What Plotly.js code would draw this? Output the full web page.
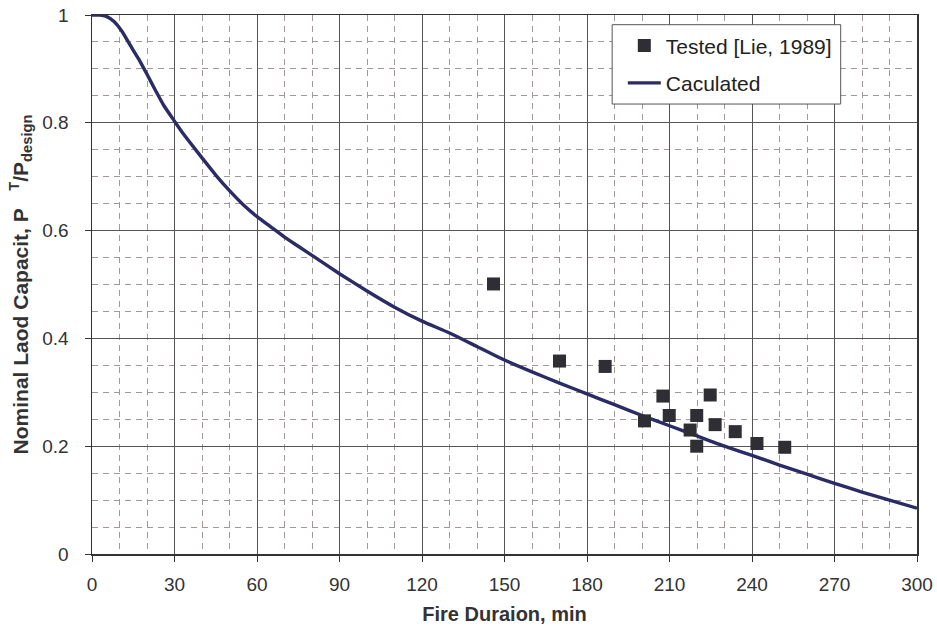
<!DOCTYPE html>
<html>
<head>
<meta charset="utf-8">
<script src="https://cdn.plot.ly/plotly-3.0.1.min.js"></script>
<style>html,body{margin:0;padding:0;background:#fff;}#chart{width:937px;height:626px;}</style>
</head>
<body>
<div id="chart"></div>
<script>
// Calculated curve: fire duration (min) vs nominal load capacity ratio
const calcTime = [0, 3, 5, 8, 11, 14, 17, 20, 23, 26, 30, 33, 36, 40, 45, 50, 55, 60, 65, 70, 75, 80, 90, 100, 110, 120, 130, 140, 150, 160, 170, 180, 190, 200, 210, 220, 230, 240, 250, 260, 270, 280, 290, 300];
const calcLoad = [1.0, 1.0, 0.998, 0.988, 0.969, 0.943, 0.918, 0.890, 0.861, 0.833, 0.803, 0.781, 0.761, 0.735, 0.703, 0.674, 0.648, 0.626, 0.607, 0.588, 0.571, 0.554, 0.520, 0.488, 0.458, 0.432, 0.410, 0.385, 0.360, 0.338, 0.317, 0.297, 0.277, 0.257, 0.238, 0.219, 0.200, 0.183, 0.165, 0.148, 0.131, 0.115, 0.100, 0.085];

// Tested points [Lie, 1989]
const testTime = [146, 170, 186.6, 207.6, 224.8, 200.9, 209.9, 219.9, 217.5, 226.6, 233.9, 219.9, 241.8, 251.9];
const testLoad = [0.501, 0.358, 0.348, 0.293, 0.295, 0.247, 0.257, 0.257, 0.230, 0.240, 0.227, 0.200, 0.205, 0.198];

const seriesNames = ['Tested [Lie, 1989]', 'Caculated'];
const xTitle = '\u00A0\u00A0Fire Duraion, min';
const yTitle = 'Nominal Laod Capacit, P\u00A0\u00A0\u00A0<sup>T</sup>/P<sub>design</sub>';

const fontFam = 'Liberation Sans, Arial, sans-serif';

const traces = [
  {
    x: calcTime, y: calcLoad, type: 'scatter', mode: 'lines',
    name: seriesNames[1], legendrank: 2, legendgroup: 'b',
    line: {color: '#2b2b66', width: 3.4, shape: 'spline', smoothing: 0.5}
  },
  {
    x: testTime, y: testLoad, type: 'scatter', mode: 'markers',
    name: seriesNames[0], legendrank: 1, legendgroup: 'a',
    marker: {symbol: 'square', size: 13, color: '#2e2e34'}
  }
];

const gridMinor = {dash: '6px,5px', color: '#a39797'};

const layout = {
  width: 937, height: 626,
  margin: {l: 92, r: 20, t: 15, b: 72, pad: 0},
  paper_bgcolor: '#ffffff', plot_bgcolor: '#ffffff',
  showlegend: true,
  legend: {
    x: 0.6434, y: 0.9807, xanchor: 'left', yanchor: 'top',
    bgcolor: 'rgba(0,0,0,0)', borderwidth: 0,
    traceorder: 'grouped', tracegroupgap: 7, itemwidth: 33,
    font: {family: fontFam, size: 21, color: '#222'}
  },
  shapes: [{
    type: 'rect', xref: 'paper', yref: 'paper', layer: 'above',
    x0: 0.6305, x1: 0.9075, y0: 0.8348, y1: 0.982,
    fillcolor: '#ffffff', line: {color: '#555', width: 1}
  }],
  xaxis: {
    range: [0, 300], tick0: 0, dtick: 30, autorange: false,
    showgrid: true, gridcolor: '#555', gridwidth: 1,
    zeroline: false, showline: true, mirror: true, linecolor: '#333', linewidth: 1.5,
    ticks: 'outside', ticklen: 6, tickcolor: '#333', tickwidth: 1,
    ticklabelstandoff: 7,
    tickfont: {family: fontFam, size: 19, color: '#333'},
    minor: {dtick: 10, showgrid: true, gridcolor: gridMinor.color, griddash: gridMinor.dash, gridwidth: 1, ticks: ''},
    title: {text: xTitle, standoff: 12, font: {family: fontFam, size: 20, weight: 'bold', color: '#333'}},
    automargin: false
  },
  yaxis: {
    range: [0, 1], tick0: 0, dtick: 0.2, autorange: false,
    showgrid: true, gridcolor: '#555', gridwidth: 1,
    zeroline: false, showline: true, mirror: true, linecolor: '#333', linewidth: 1.5,
    ticks: 'outside', ticklen: 6, tickcolor: '#333', tickwidth: 1,
    ticklabelstandoff: 12,
    tickfont: {family: fontFam, size: 19, color: '#333'},
    minor: {dtick: 0.05, showgrid: true, gridcolor: gridMinor.color, griddash: gridMinor.dash, gridwidth: 1, ticks: ''},
    title: {text: yTitle, standoff: 8, font: {family: fontFam, size: 21, weight: 'bold', color: '#333'}},
    automargin: false
  }
};

Plotly.newPlot('chart', traces, layout, {displayModeBar: false, staticPlot: true});
</script>
</body>
</html>
